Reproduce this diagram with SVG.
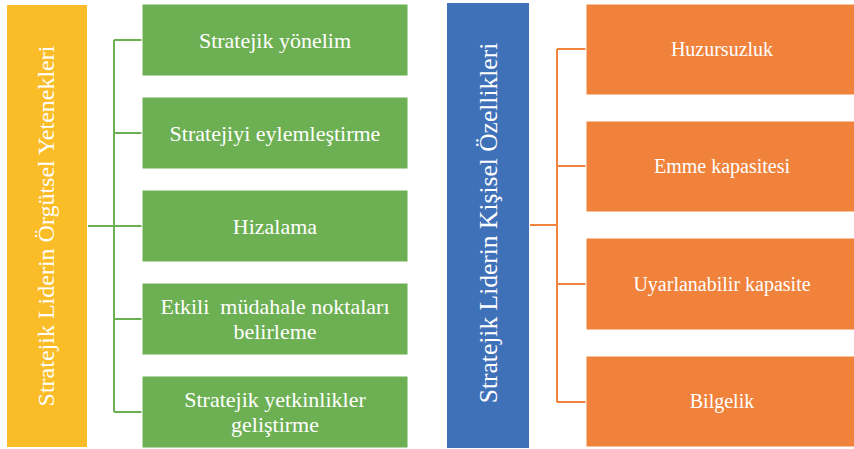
<svg xmlns="http://www.w3.org/2000/svg" width="854" height="449" viewBox="0 0 854 449">
<style>
text{fill:#fff;text-anchor:middle;dominant-baseline:central}
.t{font-size:22px}
.u{font-size:20px}
.v{font-size:24px}
.w{font-size:25.5px}
.g{fill:#6DAF53;stroke:#fff;stroke-width:1}
.o{fill:#F0823C;stroke:#fff;stroke-width:1}
.cg{stroke:#6DAF53;stroke-width:2;fill:none}
.co{stroke:#F0823C;stroke-width:2;fill:none}
</style>
<rect width="854" height="449" fill="#fff"/>
<g id="connectors">
<path class="cg" d="M88 226H114M114 40V412M114 40H142M114 133H142M114 226H142M114 319H142M114 412H142"/>
<path class="co" d="M530 225H557M557 49V402M557 49H586M557 166H586M557 284H586M557 402H586"/>
</g>
<g font-family="'Liberation Serif', 'Times New Roman', serif">
<g id="left-root">
<rect x="7" y="5" width="80" height="442" fill="#FBBD27"/>
<text class="v" transform="translate(46 226) rotate(-90)">Stratejik Liderin Örgütsel Yetenekleri</text>
</g>
<g id="g1"><rect class="g" x="142" y="4" width="266" height="72"/><text class="t" x="275" y="40">Stratejik yönelim</text></g>
<g id="g2"><rect class="g" x="142" y="97" width="266" height="72"/><text class="t" x="275" y="133">Stratejiyi eylemleştirme</text></g>
<g id="g3"><rect class="g" x="142" y="190" width="266" height="72"/><text class="t" x="275" y="226">Hizalama</text></g>
<g id="g4"><rect class="g" x="142" y="283" width="266" height="72"/><text class="t" x="275" y="306" xml:space="preserve">Etkili  müdahale noktaları</text><text class="t" x="275" y="331">belirleme</text></g>
<g id="g5"><rect class="g" x="142" y="376" width="266" height="72"/><text class="t" x="275" y="399">Stratejik yetkinlikler</text><text class="t" x="275" y="424">geliştirme</text></g>
<g id="right-root">
<rect x="447" y="3" width="82" height="445" fill="#3F71B9"/>
<text class="w" transform="translate(488 223) rotate(-90)">Stratejik Liderin Kişisel Özellikleri</text>
</g>
<g id="o1"><rect class="o" x="586" y="4" width="270" height="91"/><text class="u" x="722" y="49">Huzursuzluk</text></g>
<g id="o2"><rect class="o" x="586" y="121" width="270" height="91"/><text class="u" x="722" y="166">Emme kapasitesi</text></g>
<g id="o3"><rect class="o" x="586" y="238" width="270" height="92"/><text class="u" x="722" y="284">Uyarlanabilir kapasite</text></g>
<g id="o4"><rect class="o" x="586" y="356" width="270" height="91"/><text class="u" x="722" y="401">Bilgelik</text></g>
</g>
</svg>
